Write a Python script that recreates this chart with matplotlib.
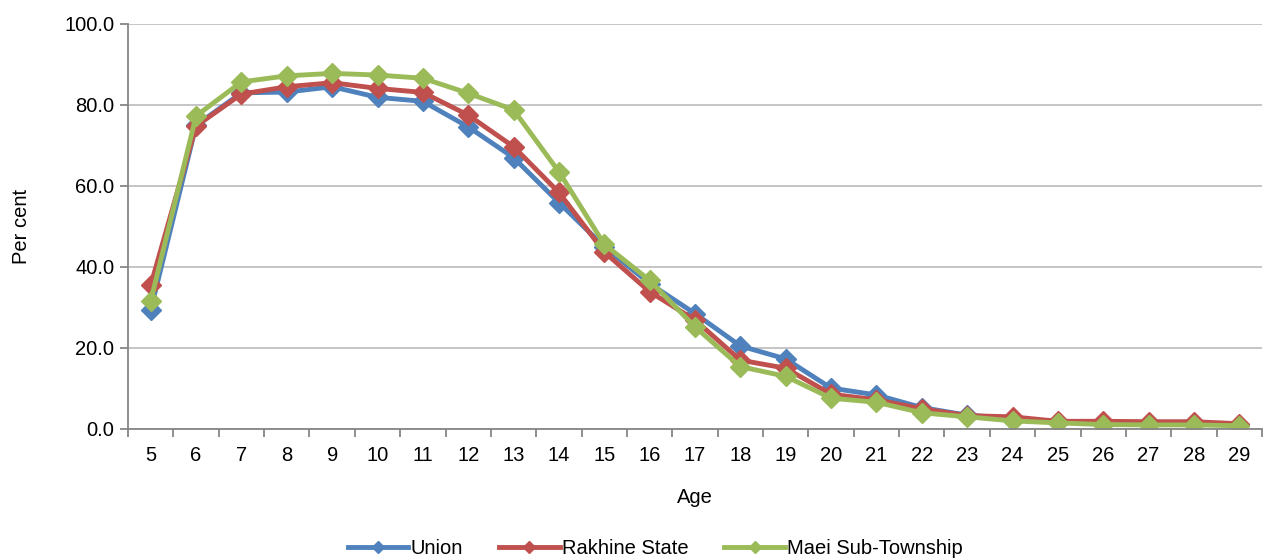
import matplotlib
matplotlib.use("Agg")
from matplotlib import pyplot as plt
from matplotlib.ticker import FixedLocator, FormatStrFormatter

plt.rcParams["font.family"] = ["Liberation Sans", "DejaVu Sans"]

ages = list(range(5, 30))
union = [29.4, 75.0, 83.0, 83.2, 84.5, 81.9, 80.9, 74.6, 67.0, 55.9,
         45.0, 35.9, 28.5, 20.5, 17.3, 10.1, 8.4, 5.3, 3.4, 2.6,
         1.8, 1.5, 1.3, 1.3, 1.0]
rakhine = [35.5, 74.8, 82.7, 84.5, 85.5, 84.1, 83.1, 77.5, 69.7, 58.4,
           43.7, 33.9, 26.9, 17.0, 15.0, 8.6, 7.2, 5.0, 3.3, 3.0,
           1.9, 1.9, 1.8, 1.8, 1.3]
maei = [31.6, 77.3, 85.7, 87.2, 87.8, 87.4, 86.6, 82.9, 78.8, 63.5,
        45.6, 36.7, 25.2, 15.4, 13.0, 7.6, 6.6, 4.0, 3.0, 2.0,
        1.5, 1.1, 1.0, 1.0, 0.8]

series = [
    ("Union", union, "#4F81BD"),
    ("Rakhine State", rakhine, "#C0504D"),
    ("Maei Sub-Township", maei, "#9BBB59"),
]

fig = plt.figure(figsize=(12.64, 5.58), dpi=100)
ax = fig.add_axes([0.1013, 0.2312, 0.8971, 0.7258])

for name, vals, col in series:
    ax.plot(ages, vals, color=col, lw=3.5, marker="D", markersize=10.5,
            markeredgecolor=col, label=name)

ax.set_xlim(4.5, 29.5)
ax.set_ylim(0, 100)
ax.set_yticks([0, 20, 40, 60, 80, 100])
ax.yaxis.set_major_formatter(FormatStrFormatter("%.1f"))
ax.set_xticks(ages)
ax.xaxis.set_minor_locator(FixedLocator([a + 0.5 for a in range(4, 30)]))
ax.tick_params(axis="x", which="major", length=0, pad=12, labelsize=14.5)
ax.tick_params(axis="x", which="minor", length=6, width=1.3,
               color="#868686", direction="out")
ax.tick_params(axis="y", length=6, width=1.3, color="#868686",
               pad=4, labelsize=14.5)

ax.grid(axis="y", color="#C0C0C0", lw=1.3)
ax.set_axisbelow(True)
for s in ["top", "right"]:
    ax.spines[s].set_visible(False)
for s in ["left", "bottom"]:
    ax.spines[s].set_color("#868686")
    ax.spines[s].set_linewidth(1.3)

ax.set_xlabel("Age", fontsize=14.5, labelpad=17)
ax.set_ylabel("Per cent", fontsize=14.5, labelpad=24)

ax.legend(loc="center", bbox_to_anchor=(0.465, -0.296), ncol=3,
          frameon=False, fontsize=14.5, handlelength=3.0, columnspacing=1.8,
          handletextpad=0.1, markerscale=0.55, borderpad=0.1)

fig.savefig("out.png", dpi=100)
